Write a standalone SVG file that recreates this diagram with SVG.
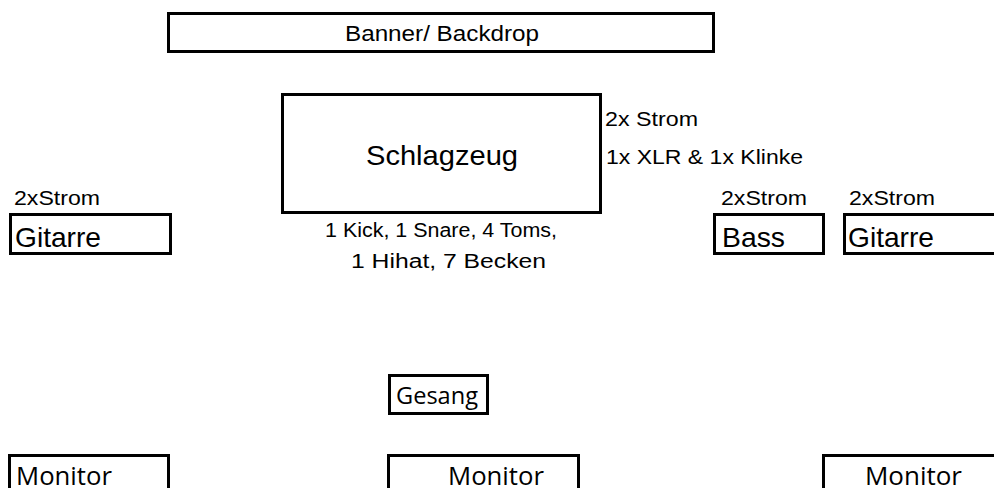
<svg xmlns="http://www.w3.org/2000/svg" width="994" height="488" viewBox="0 0 994 488">
<style>
.box{fill:#fff;stroke:#000;stroke-width:3}
.a{font-family:"Liberation Sans",Arial,sans-serif;fill:#000}
.c{font-family:"Open Sans","Noto Sans",sans-serif;fill:#000}
</style>
<rect width="994" height="488" fill="#fff"/>
<g id="banner"><rect class="box" x="168.5" y="13.5" width="545" height="38"/><text class="a" x="345" y="41" font-size="22" textLength="194" lengthAdjust="spacingAndGlyphs">Banner/ Backdrop</text></g>
<g id="schlagzeug"><rect class="box" x="282.5" y="94.5" width="318" height="118"/><text class="a" x="366" y="165" font-size="28" textLength="152" lengthAdjust="spacingAndGlyphs">Schlagzeug</text>
<text class="a" x="605" y="126" font-size="21" textLength="93" lengthAdjust="spacingAndGlyphs">2x Strom</text>
<text class="a" x="606" y="164" font-size="21" textLength="197" lengthAdjust="spacingAndGlyphs">1x XLR &amp; 1x Klinke</text>
<text class="a" x="325" y="237" font-size="20" textLength="232" lengthAdjust="spacingAndGlyphs">1 Kick, 1 Snare, 4 Toms,</text>
<text class="a" x="351" y="268" font-size="20" textLength="195" lengthAdjust="spacingAndGlyphs">1 Hihat, 7 Becken</text></g>
<g id="gitarre-links"><text class="a" x="14" y="205" font-size="21" textLength="86" lengthAdjust="spacingAndGlyphs">2xStrom</text><rect class="box" x="10.5" y="214.5" width="160" height="39"/><text class="a" x="15" y="247" font-size="28" textLength="86" lengthAdjust="spacingAndGlyphs">Gitarre</text></g>
<g id="bass"><text class="a" x="721" y="205" font-size="21" textLength="86" lengthAdjust="spacingAndGlyphs">2xStrom</text><rect class="box" x="714.5" y="214.5" width="109" height="39"/><text class="a" x="722" y="247" font-size="28" textLength="63" lengthAdjust="spacingAndGlyphs">Bass</text></g>
<g id="gitarre-rechts"><text class="a" x="849" y="205" font-size="21" textLength="86" lengthAdjust="spacingAndGlyphs">2xStrom</text><rect class="box" x="844.5" y="214.5" width="160" height="39"/><text class="a" x="848" y="247" font-size="28" textLength="86" lengthAdjust="spacingAndGlyphs">Gitarre</text></g>
<g id="gesang"><rect class="box" x="389.5" y="375.5" width="98" height="38"/><text class="c" x="396" y="404" font-size="23" textLength="82" lengthAdjust="spacingAndGlyphs">Gesang</text></g>
<g id="monitor-links"><rect class="box" x="9.5" y="455.5" width="159" height="40"/><text class="c" x="16" y="485" font-size="25" textLength="96" lengthAdjust="spacingAndGlyphs">Monitor</text></g>
<g id="monitor-mitte"><rect class="box" x="388.5" y="455.5" width="190" height="40"/><text class="c" x="448" y="485" font-size="25" textLength="96" lengthAdjust="spacingAndGlyphs">Monitor</text></g>
<g id="monitor-rechts"><rect class="box" x="823.5" y="455.5" width="180" height="40"/><text class="c" x="865" y="485" font-size="25" textLength="97" lengthAdjust="spacingAndGlyphs">Monitor</text></g>
<g id="connectors"/>
</svg>
